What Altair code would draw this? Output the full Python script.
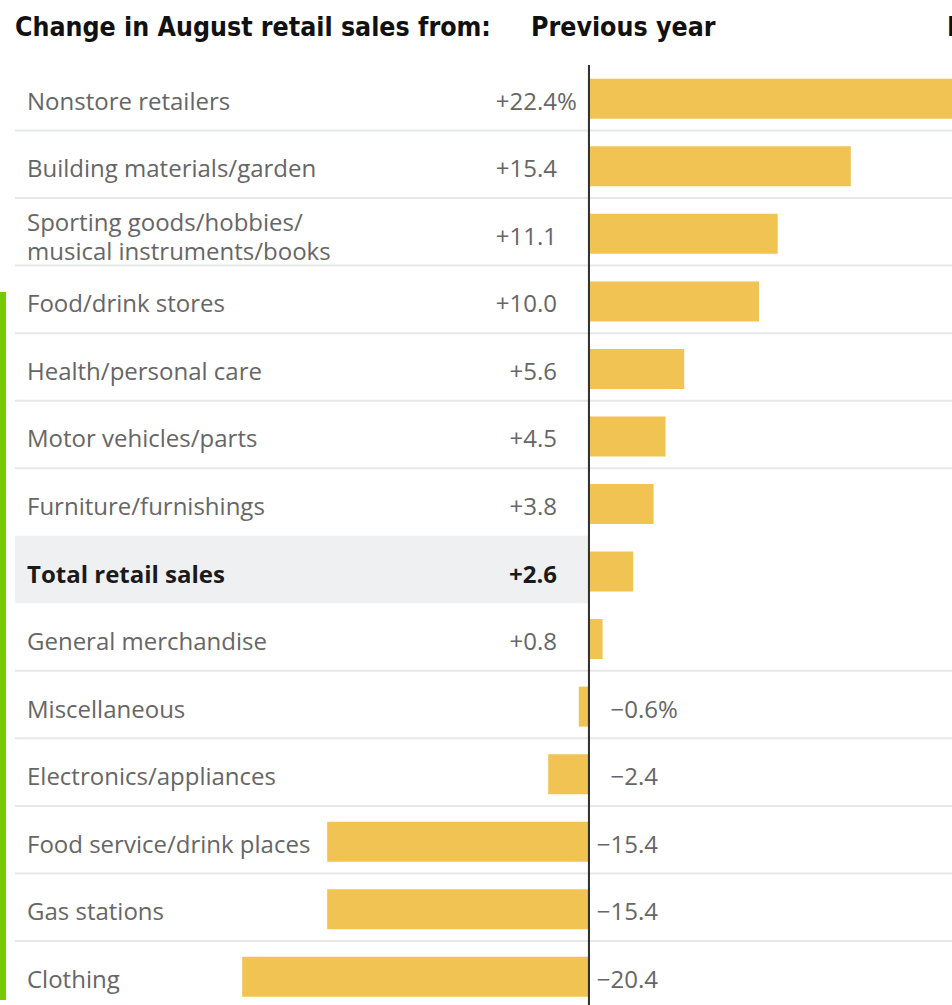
import altair as alt
import pandas as pd

categories = [
    "Nonstore retailers",
    "Building materials/garden",
    "Sporting goods/hobbies/\nmusical instruments/books",
    "Food/drink stores",
    "Health/personal care",
    "Motor vehicles/parts",
    "Furniture/furnishings",
    "Total retail sales",
    "General merchandise",
    "Miscellaneous",
    "Electronics/appliances",
    "Food service/drink places",
    "Gas stations",
    "Clothing",
]
values = [22.4, 15.4, 11.1, 10.0, 5.6, 4.5, 3.8, 2.6, 0.8, -0.6, -2.4, -15.4, -15.4, -20.4]
value_labels = ["+22.4", "+15.4", "+11.1", "+10.0", "+5.6", "+4.5", "+3.8", "+2.6",
                "+0.8", "\u22120.6", "\u22122.4", "\u221215.4", "\u221215.4", "\u221220.4"]
pct_suffix = ["%", "", "", "", "", "", "", "", "", "%", "", "", "", ""]
highlight = "Total retail sales"
title_left = "Change in August retail sales from:"
title_mid = "Previous year"
title_right = "Previous month"

hi_idx = categories.index(highlight)
df = pd.DataFrame({
    "cat": categories,
    "value": values,
    "label": value_labels,
    "pct": pct_suffix,
    "sep": [not (i in (hi_idx - 1, hi_idx)) for i in range(len(categories))],
    "multi": ["\n" in c for c in categories],
    "hi": [c == highlight for c in categories],
})

FONT = "Open Sans"
TFONT = "Liberation Sans Narrow, DejaVu Sans Condensed, DejaVu Sans"
FS = 24

yscale = alt.Scale(range=[63, 1008.5], paddingInner=0, paddingOuter=0)
xscale = alt.Scale(domain=[-34.647, 21.353], nice=False, zero=False)
Y = alt.Y("cat:N", sort=categories, scale=yscale, axis=None)
Ysep = alt.Y("cat:N", sort=categories, scale=yscale, axis=None, bandPosition=1)

base = alt.Chart(df)

hl = base.transform_filter("datum.hi").mark_rect(color="#eef0f1").encode(
    y=Y, x=alt.value(15), x2=alt.value(588)
)

sep = base.transform_filter("datum.sep").mark_rule(color="#e6e7e8", strokeWidth=2).encode(
    y=Ysep, x=alt.value(15), x2=alt.value(952)
)

bars = base.mark_bar(color="#f1c353", size=40, yOffset=2, clip=True).encode(
    y=Y, x=alt.X("value:Q", scale=xscale, axis=None, stack=None)
)

zero = base.mark_rule(color="#333333", strokeWidth=2).encode(
    x=alt.datum(0), y=alt.value(65), y2=alt.value(1005)
)

cat_txt = base.transform_filter("!datum.hi && !datum.multi").mark_text(
    align="left", baseline="middle", dy=6, font=FONT, fontSize=FS, color="#666666"
).encode(x=alt.value(27), y=Y, text="cat:N")

cat_multi = base.transform_filter("datum.multi").mark_text(
    align="left", baseline="middle", dy=-8, font=FONT, fontSize=FS, color="#666666",
    lineBreak="\n", lineHeight=29
).encode(x=alt.value(27), y=Y, text="cat:N")

cat_hi = base.transform_filter("datum.hi").mark_text(
    align="left", baseline="middle", dy=6, font=FONT, fontSize=FS, fontWeight="bold",
    color="#1a1a1a"
).encode(x=alt.value(27), y=Y, text="cat:N")

pos_lbl = base.transform_filter("datum.value > 0 && !datum.hi").mark_text(
    align="right", baseline="middle", dy=6, font=FONT, fontSize=FS, color="#666666"
).encode(x=alt.value(557), y=Y, text="label:N")

hi_lbl = base.transform_filter("datum.hi").mark_text(
    align="right", baseline="middle", dy=6, font=FONT, fontSize=FS, fontWeight="bold",
    color="#1a1a1a"
).encode(x=alt.value(557), y=Y, text="label:N")

neg_lbl = base.transform_filter("datum.value < 0").mark_text(
    align="right", baseline="middle", dy=6, font=FONT, fontSize=FS, color="#666666"
).encode(x=alt.value(658), y=Y, text="label:N")

pct_pos = base.transform_filter("datum.pct == '%' && datum.value > 0").mark_text(
    align="left", baseline="middle", dy=6, font=FONT, fontSize=FS, color="#666666"
).encode(x=alt.value(557), y=Y, text="pct:N")

pct_neg = base.transform_filter("datum.pct == '%' && datum.value < 0").mark_text(
    align="left", baseline="middle", dy=6, font=FONT, fontSize=FS, color="#666666"
).encode(x=alt.value(658), y=Y, text="pct:N")

def title_layer(txt, xpos):
    return alt.Chart(pd.DataFrame({"t": [txt]})).mark_text(
        align="left", baseline="middle", font=TFONT, fontSize=26.5, fontWeight="bold",
        color="#111111"
    ).encode(x=alt.value(xpos), y=alt.value(28), text="t:N")

t1 = title_layer(title_left, 15)
t2 = title_layer(title_mid, 531)
t3 = title_layer(title_right, 947)

green = alt.Chart(pd.DataFrame({"a": [0]})).mark_rule(color="#76c803", strokeWidth=6).encode(
    x=alt.value(3), y=alt.value(292), y2=alt.value(1000)
)

chart = alt.layer(
    hl, sep, bars, zero, cat_txt, cat_multi, cat_hi, pos_lbl, hi_lbl, neg_lbl, pct_pos, pct_neg,
    t1, t2, t3, green
).properties(
    width=952, height=1005, padding=0, autosize="none", background="white"
).configure_view(stroke=None)

chart.save("out.html", embed_options={"renderer": "svg", "actions": False})
